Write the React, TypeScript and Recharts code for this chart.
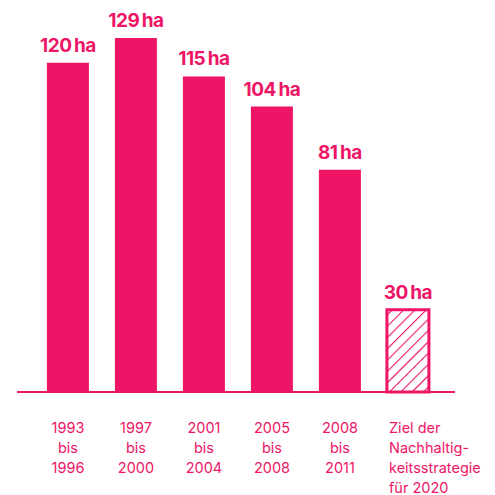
import React from 'react';
import { BarChart, Bar, XAxis, YAxis, Cell, LabelList } from 'recharts';

const periods = ['1993–1996', '1997–2000', '2001–2004', '2005–2008', '2008–2011', 'Ziel 2020'];
const hectares = [120, 129, 115, 104, 81, 30];
const tickLines = [
    ['1993', 'bis', '1996'],
    ['1997', 'bis', '2000'],
    ['2001', 'bis', '2004'],
    ['2005', 'bis', '2008'],
    ['2008', 'bis', '2011'],
    ['Ziel der', 'Nachhaltig-', 'keitsstrategie', 'für 2020'],
];

const PINK = '#ee1566';
const FONT = 'Inter, Roboto, "Liberation Sans", sans-serif';

const data = periods.map((p, i) => ({ name: p, value: hectares[i] }));

const PeriodTick = ({ x, y, index }: any) => {
    const lines = tickLines[index] || [];
    const isTarget = index === tickLines.length - 1;
    const tx = isTarget ? x - 19 : x;
    return (
        <text
            x={tx}
            y={y}
            textAnchor={isTarget ? 'start' : 'middle'}
            fill={PINK}
            fontSize={14.5}
            fontFamily={FONT}
        >
            {lines.map((l, i) => (
                <tspan key={i} x={tx} dy={i === 0 ? 33 : 20}>{l}</tspan>
            ))}
        </text>
    );
};

const ValueLabel = ({ x, y, width, value }: any) => (
    <text
        x={x + width / 2}
        y={y - 11}
        textAnchor="middle"
        fill={PINK}
        fontSize={19}
        fontWeight={700}
        fontFamily={FONT}
        letterSpacing={-0.5}
    >
        {value}{'\u2009'}ha
    </text>
);

export default function App() {
    return (
        <div style={{ position: 'absolute', left: 0, top: 0 }}>
            <BarChart
                width={495}
                height={495}
                data={data}
                margin={{ top: 38, right: 40, left: 17, bottom: 0 }}
                barCategoryGap="19%"
            >
                <defs>
                    <pattern id="hatch" width="8" height="8" patternUnits="userSpaceOnUse" patternTransform="rotate(45)">
                        <rect width="8" height="8" fill="#fff" />
                        <line x1="0" y1="0" x2="0" y2="8" stroke={PINK} strokeWidth={2.2} />
                    </pattern>
                </defs>
                <XAxis
                    dataKey="name"
                    height={103}
                    interval={0}
                    tick={<PeriodTick />}
                    tickLine={false}
                    axisLine={{ stroke: PINK, strokeWidth: 2 }}
                    padding={{ left: 17, right: 13 }}
                />
                <YAxis hide domain={[0, 129]} />
                <Bar dataKey="value" isAnimationActive={false}>
                    {data.map((d, i) => (
                        i === data.length - 1
                            ? <Cell key={i} fill="url(#hatch)" stroke={PINK} strokeWidth={3} />
                            : <Cell key={i} fill={PINK} />
                    ))}
                    <LabelList dataKey="value" content={<ValueLabel />} />
                </Bar>
            </BarChart>
        </div>
    );
}
